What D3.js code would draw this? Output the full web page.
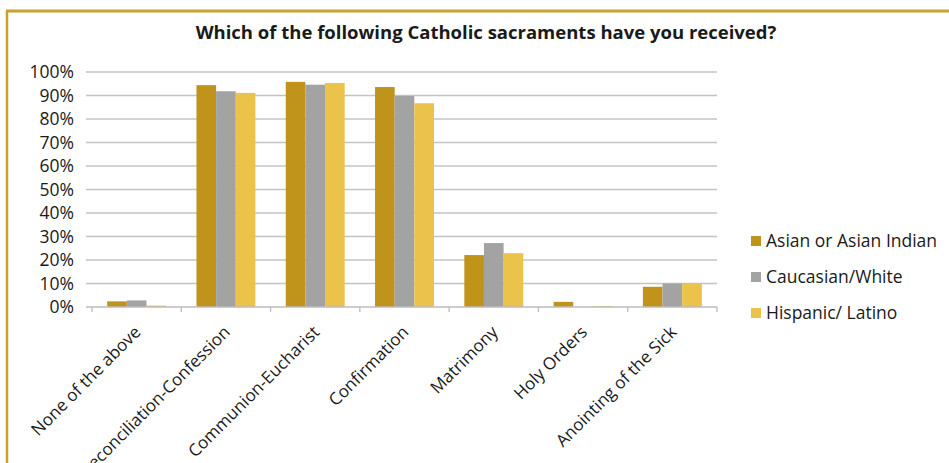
<!DOCTYPE html>
<html>
<head>
<meta charset="utf-8">
<script src="https://cdn.jsdelivr.net/npm/d3@7"></script>
<style>
  html, body { margin: 0; padding: 0; background: #fff; }
  svg { display: block; }
  text { font-family: "Open Sans", "Liberation Sans", sans-serif; fill: #1a1a1a; }
</style>
</head>
<body>
<svg id="chart" width="949" height="463"></svg>
<script>
// Sacraments received, share of respondents by ethnicity
const categories = ["None of the above", "Reconciliation-Confession", "Communion-Eucharist",
  "Confirmation", "Matrimony", "Holy Orders", "Anointing of the Sick"];
const seriesNames = ["Asian or Asian Indian", "Caucasian/White", "Hispanic/ Latino"];
const asian = [2.4, 94.4, 95.8, 93.6, 22.1, 2.2, 8.6];
const caucasian = [2.8, 91.8, 94.6, 89.8, 27.2, 0, 10.0];
const hispanic = [0.6, 91.1, 95.3, 86.7, 22.9, 0.4, 10.0];
const yTicks = [0, 10, 20, 30, 40, 50, 60, 70, 80, 90, 100];
const colors = ["#C0941A", "#A3A3A3", "#EBC24A"];
const titleText = "Which of the following Catholic sacraments have you received?";

const seriesValues = [asian, caucasian, hispanic];
const svg = d3.select("#chart");

// outer frame: gold rules along top and left
svg.append("rect").attr("x", 0).attr("y", 0).attr("width", 949).attr("height", 463).attr("fill", "#fff");
svg.append("line").attr("x1", 6).attr("x2", 949).attr("y1", 11).attr("y2", 11)
  .attr("stroke", "#C9A227").attr("stroke-width", 3);
svg.append("line").attr("x1", 7).attr("x2", 7).attr("y1", 10).attr("y2", 463)
  .attr("stroke", "#C9A227").attr("stroke-width", 2.5);

const plot = { left: 92, right: 717, top: 72, bottom: 307 };

const x = d3.scaleBand().domain(categories).range([plot.left, plot.right]).paddingInner(0.34).paddingOuter(0.17);
const xs = d3.scaleBand().domain(d3.range(seriesNames.length)).range([0, x.bandwidth()]);
const y = d3.scaleLinear().domain([0, 100]).range([plot.bottom, plot.top]);

// gridlines
svg.append("g").selectAll("line").data(yTicks.filter(d => d > 0)).join("line")
  .attr("x1", plot.left - 6).attr("x2", plot.right)
  .attr("y1", d => y(d)).attr("y2", d => y(d))
  .attr("stroke", "#C4C4C4").attr("stroke-width", 1.3);

// y tick labels
svg.append("g").selectAll("text").data(yTicks).join("text")
  .attr("x", 74).attr("y", d => y(d)).attr("dy", "0.36em")
  .attr("text-anchor", "end").style("font-size", "17.5px")
  .text(d => d + "%");

// bars
const groups = svg.append("g").selectAll("g").data(categories).join("g")
  .attr("transform", d => `translate(${x(d)},0)`);
groups.selectAll("rect").data((c, i) => seriesValues.map((s, k) => ({ k, v: s[i] }))).join("rect")
  .attr("x", d => xs(d.k)).attr("width", xs.bandwidth())
  .attr("y", d => y(d.v)).attr("height", d => y(0) - y(d.v))
  .attr("fill", d => colors[d.k]);

// category axis with boundary ticks
const bounds = d3.range(categories.length + 1).map(i => plot.left + i * (plot.right - plot.left) / categories.length);
svg.append("line").attr("x1", plot.left - 6).attr("x2", plot.right).attr("y1", y(0)).attr("y2", y(0))
  .attr("stroke", "#BDBDBD").attr("stroke-width", 1.3);
svg.append("g").selectAll("line").data(bounds).join("line")
  .attr("x1", d => d).attr("x2", d => d).attr("y1", y(0)).attr("y2", y(0) + 5)
  .attr("stroke", "#BDBDBD").attr("stroke-width", 1.3);

svg.append("g").selectAll("text").data(categories).join("text")
  .attr("transform", d => `translate(${x(d) + x.bandwidth() / 2 + 1},${y(0) + 22}) rotate(-45)`)
  .attr("text-anchor", "end").attr("dy", "0.35em").style("font-size", "17px")
  .text(d => d);

// title
svg.append("text").attr("x", 486).attr("y", 39).attr("text-anchor", "middle")
  .style("font-size", "18.5px").style("font-weight", "bold").text(titleText);

// legend
const legend = svg.append("g").selectAll("g").data(seriesNames).join("g")
  .attr("transform", (d, i) => `translate(751,${241 + i * 36})`);
legend.append("rect").attr("x", 0).attr("y", -5).attr("width", 10).attr("height", 10)
  .attr("fill", (d, i) => colors[i]);
legend.append("text").attr("x", 15).attr("y", 0).attr("dy", "0.36em")
  .style("font-size", "17.5px").text(d => d);
</script>
</body>
</html>
